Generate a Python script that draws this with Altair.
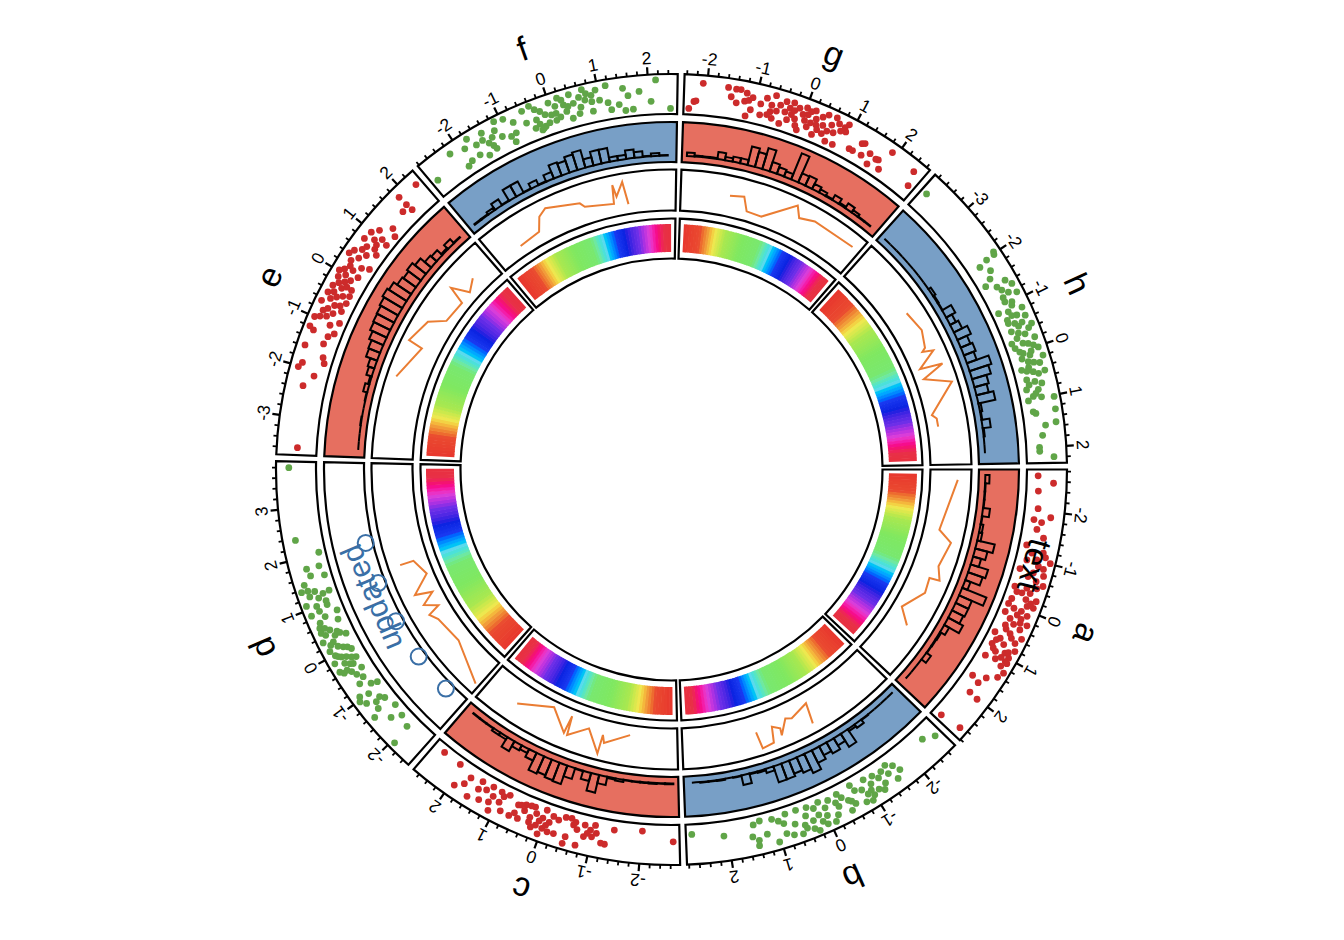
import math
import pandas as pd
import altair as alt

W, H = 1327, 923
CX, CY = 663.5, 461.5

SECTORS = ["a", "b", "c", "d", "e", "f", "g", "h"]
START = [0.0, 44.2, 88.75, 131.7, 182.2, 230.1, 271.9, 311.8]
END = [43.2, 87.75, 130.7, 181.2, 229.1, 270.9, 310.8, 359.0]
XMIN = [-2.84, -2.78, -2.78, -2.54, -3.75, -2.83, -2.45, -3.89]
XMAX = [2.82, 2.84, 2.74, 3.92, 2.39, 2.58, 2.68, 2.32]
TRACKS = [(355.5, 395.5), (307.5, 347.5), (259.0, 300.0), (211.0, 251.0)]

RED = "#cc2b2b"
GREEN = "#60a548"
FILL_RED = "#e66f60"
FILL_BLUE = "#789fc6"
ORANGE = "#ea7d33"
BLUE = "#3a6fa6"
PT_COLOR = [RED, GREEN, RED, GREEN, RED, GREEN, RED, GREEN]
HIST_FILL = [FILL_RED, FILL_BLUE, FILL_RED, "#ffffff", FILL_RED, FILL_BLUE, FILL_RED, FILL_BLUE]

PTS_A = [(-2.71,.28),(-2.57,.67),(-2.4,.3),(-2.04,.33),(-1.89,.67),(-1.81,.26),(-1.77,.46),(-1.62,.37),(-1.47,.57),(-1.27,.19),(-1.18,.64),(-1.13,.36),(-1.01,.87),(-1.02,.52),(-.97,.28),(-.76,.17),(-.87,.74),(-.75,.52),(-.74,.79),(-.38,.18),(-.42,.48),(-.47,.72),(-.29,.27),(-.12,.21),(-.34,.6),(-.23,.81),(0,.18),(-.08,.64),(-.09,.8),(.18,.18),(.15,.49),(.1,.73),(.27,.36),(.43,.32),(.28,.64),(.27,.82),(.65,.16),(.55,.52),(.55,.84),(.72,.35),(.89,.23),(.68,.74),(.96,.31),(.82,.83),(.94,.63),(1.17,.23),(1.13,.49),(.99,.77),(1.08,.74),(1.29,.85),(1.42,.78),(1.55,.55),(1.66,.23),(1.72,.45),(1.97,.42),(2.0,.67),(2.7,.23),(2.64,.79),
 (-1.1,.72),(-.9,.6),(-.6,.65),(-.55,.85),(-.3,.4),(-.2,.55),(-.15,.7),(.05,.35),(.05,.55),(.2,.62),(.35,.5),(.4,.7),(.5,.38),(.62,.6),(.8,.5),(.78,.28),(1.0,.4),(1.05,.6),(1.2,.7),(.9,.7),(1.1,.8),(-.65,.42)]
PTS_B = [(2.72,.25),(2.08,.37),(1.46,.23),(1.32,.17),(1.52,.52),(1.43,.77),(1.07,.21),(1.23,.54),(1.41,.64),(1.04,.81),(.78,.18),(.86,.4),(.86,.66),(.55,.18),(.73,.75),(.33,.21),(.47,.61),(.56,.8),(.07,.2),(.29,.58),(.32,.78),(-.13,.26),(-.02,.4),(.12,.69),(.24,.87),(-.34,.22),(-.28,.52),(-.11,.83),(-.66,.18),(-.5,.49),(-.48,.76),(-.96,.23),(-1.15,.27),(-.83,.43),(-1.24,.4),(-.99,.56),(-.92,.8),(-1.13,.64),(-1.22,.73),(-1.49,.23),(-1.61,.35),(-1.45,.45),(-1.68,.54),(-1.55,.69),(-2.41,.32),(-2.64,.48),
 (.95,.3),(.65,.5),(.4,.4),(.2,.3),(.15,.5),(0,.6),(-.2,.7),(-.4,.35),(-.6,.65),(-.7,.35),(-.8,.75),(-1.05,.42),(-1.3,.6),(-1.35,.3),(.45,.7),(.05,.8),(-.25,.4),(-.55,.55),(-.9,.6),(-1.0,.7)]
PTS_C = [(-2.65,.42),(-2.01,.18),(-1.43,.24),(-1.28,.63),(-1.2,.62),(-1.03,.21),(-1.08,.4),(-1.0,.51),(-.82,.26),(-.84,.55),(-.72,.81),(-.59,.33),(-.52,.18),(-.49,.67),(-.47,.85),(-.27,.32),(-.25,.68),(-.15,.27),(-.12,.69),(.02,.18),(0,.65),(.05,.82),(.27,.21),(.14,.63),(.29,.62),(.46,.25),(.52,.65),(.61,.33),(.7,.67),(.89,.66),(.99,.48),(.85,.2),(1.03,.22),(1.18,.6),(1.11,.79),(1.37,.67),(1.23,.21),(1.33,.36),(1.48,.23),(1.48,.45),(1.6,.75),(1.73,.31),(1.78,.52),(1.93,.69),(2.07,.18),(2.48,.18),
 (-.95,.35),(-.9,.45),(-.68,.42),(-.62,.25),(-.4,.2),(-.1,.45),(.05,.4),(.1,.5),(.2,.35),(.22,.72),(.3,.5),(.35,.22),(.45,.4),(.55,.3),(.62,.55),(.95,.3),(1.15,.42),(-.05,.55)]
PTS_D = [(3.8,.68),(2.37,.68),(2.04,.17),(1.77,.57),(1.77,.25),(1.62,.52),(1.56,.18),(1.48,.74),(1.36,.86),(1.3,.54),(1.23,.7),(1.21,.36),(1.23,.19),(1.01,.62),(1.08,.86),(.97,.36),(.79,.18),(.87,.83),(.76,.52),(.61,.25),(.59,.76),(.48,.55),(.49,.78),(.34,.49),(.28,.22),(.31,.84),(.24,.6),(-.05,.28),(.06,.44),(.1,.79),(-.06,.67),(-.14,.49),(-.24,.28),(-.15,.83),(-.24,.61),(-.33,.43),(-.48,.3),(-.34,.83),(-.45,.57),(-.4,.75),(-.66,.4),(-.74,.57),(-.86,.33),(-.91,.18),(-.95,.76),(-1,.53),(-1.03,.83),(-1.13,.72),(-1.26,.27),(-1.22,.5),(-1.18,.36),(-1.35,.57),(-1.44,.78),(-1.65,.47),(-1.51,.18),(-1.76,.23),(-2,.33),(-2.06,.84),
 (.55,.65),(.42,.7),(.4,.4),(.2,.7),(.12,.55),(.02,.35),(-.02,.72),(-.1,.6),(-.2,.38),(-.3,.5),(-.38,.65),(1.35,.7),(1.15,.5),(.68,.7),(.35,.35),(-.55,.5),(1.05,.35),(.9,.6)]
PTS_E = [(-3.6,.48),(-2.36,.56),(-2.12,.35),(-2.02,.79),(-1.92,.72),(-1.82,.19),(-1.71,.26),(-1.58,.79),(-1.44,.36),(-1.27,.32),(-1.17,.2),(-1.25,.72),(-1.2,.84),(-.93,.18),(-1.04,.38),(-1,.82),(-.8,.43),(-.69,.26),(-.82,.69),(-.64,.48),(-.5,.24),(-.66,.83),(-.47,.53),(-.34,.25),(-.46,.78),(-.27,.52),(-.21,.28),(-.3,.75),(-.13,.53),(-.1,.74),(.08,.3),(.09,.7),(.28,.35),(.3,.68),(.35,.17),(.5,.75),(.55,.43),(.67,.23),(.8,.72),(.84,.38),(.96,.18),(.98,.68),(1.11,.55),(1.31,.32),(1.21,.15),(1.7,.42),(1.86,.29),(1.85,.48),(1.85,.74),(2.26,.68),
 (-.75,.6),(-.55,.65),(-.6,.35),(-.4,.4),(-.4,.65),(-.2,.42),(-.2,.65),(-.05,.42),(0,.6),(.02,.8),(.15,.5),(.2,.62),(.42,.55),(.4,.82),(.6,.6),(.7,.55),(.75,.35),(.9,.5),(1.0,.35),(-.9,.55),(-.95,.7)]
PTS_F = [(2.44,.14),(2.15,.86),(2.04,.33),(1.66,.17),(1.5,.16),(1.81,.6),(1.58,.52),(1.49,.72),(1.38,.33),(1.21,.23),(1.16,.42),(1.16,.85),(.95,.79),(1,.52),(.83,.28),(.84,.52),(.69,.87),(.71,.6),(.47,.59),(.39,.23),(.3,.44),(.42,.83),(.18,.83),(.27,.62),(.08,.47),(-.01,.78),(-.02,.47),(-.14,.53),(-.29,.19),(-.41,.29),(-.39,.87),(-.31,.74),(-.34,.48),(-.55,.5),(-.55,.82),(-.9,.18),(-.94,.35),(-.79,.65),(-.82,.38),(-.95,.83),(-1.13,.88),(-1.11,.45),(-1.2,.67),(-1.32,.25),(-1.52,.19),(-1.41,.46),(-1.45,.77),(-1.65,.58),(-1.69,.32),(-1.89,.3),(-2.01,.23),(-1.76,.83),(-1.89,.65),(-2.19,.75),(-2.7,.41),
 (.6,.7),(.75,.75),(.6,.45),(.25,.75),(.35,.55),(.1,.65),(.05,.3),(-.1,.3),(-.2,.25),(-.22,.65),(.15,.35),(-1.3,.55),(-1.35,.35),(-1.5,.6),(.85,.68),(.55,.3),(-.3,.35),(-.25,.22)]
PTS_G = [(-2.08,.8),(-2.34,.15),(-2.24,.33),(-2.2,.35),(-1.58,.77),(-1.42,.76),(-1.33,.77),(-1.5,.55),(-1.38,.42),(-1.2,.71),(-1.22,.5),(-1.14,.54),(-1.07,.63),(-1.07,.32),(-1.15,.14),(-.86,.25),(-.89,.52),(-.79,.7),(-.67,.56),(-.63,.82),(-.67,.39),(-.61,.24),(-.43,.17),(-.4,.75),(-.38,.49),(-.25,.78),(-.24,.48),(-.3,.32),(-.04,.16),(-.02,.58),(.02,.77),(.13,.32),(.29,.19),(.2,.78),(.26,.59),(.37,.7),(.43,.51),(.46,.81),(.47,.31),(.6,.17),(.77,.18),(.59,.61),(.63,.83),(.8,.57),(.9,.81),(.9,.61),(1.12,.28),(1.2,.28),(1.35,.59),(1.3,.55),(1.4,.29),(1.54,.44),(1.6,.18),(1.75,.42),(1.7,.4),(1.86,.23),(1.9,.77),(2.46,.71),(2.55,.35),
 (-.55,.45),(-.5,.62),(-.3,.62),(-.12,.7),(-.15,.4),(-.1,.25),(.05,.45),(.08,.62),(.18,.45),(.3,.45),(.35,.35),(.55,.42),(.68,.45),(.72,.72),(.85,.7),(-.72,.3),(-.2,.6),(.12,.72)]
PTS_H = [(-3.76,.5),(-2.03,.83),(-1.98,.8),(-1.97,.57),(-1.92,.33),(-1.75,.51),(-1.61,.39),(-1.52,.2),(-1.44,.7),(-1.32,.81),(-1.4,.44),(-1.3,.51),(-1.2,.63),(-1.13,.82),(-1.06,.44),(-.94,.56),(-.82,.77),(-.9,.17),(-.85,.41),(-.72,.57),(-.65,.76),(-.63,.29),(-.58,.44),(-.46,.83),(-.45,.28),(-.37,.43),(-.31,.58),(-.19,.78),(-.21,.18),(-.11,.57),(-.1,.22),(.02,.78),(.05,.37),(.12,.52),(.2,.83),(.24,.43),(.28,.56),(.49,.77),(.37,.21),(.46,.48),(.59,.27),(.66,.46),(.79,.21),(.83,.5),(.95,.34),(.99,.54),(1.02,.2),(1.03,.85),(1.27,.83),(1.26,.27),(1.52,.8),(1.56,.53),(1.76,.43),(2.0,.33),(2.08,.33),(2.2,.68),
 (-1.15,.45),(-1.0,.6),(-.75,.45),(-.7,.3),(-.55,.62),(-.5,.5),(-.4,.72),(-.28,.35),(-.15,.45),(-.05,.68),(.05,.58),(.0,.3),(.15,.3),(.32,.7),(.35,.4),(.52,.6),(.7,.3),(.72,.62),(.9,.42),(1.3,.33),(.42,.33)]
POINTS = [PTS_A, PTS_B, PTS_C, PTS_D, PTS_E, PTS_F, PTS_G, PTS_H]

HIST_RANGE = [(-2.71, 2.63), (-2.65, 2.65), (-2.66, 2.53), None, (-3.57, 2.2), (-2.68, 2.37), (-2.33, 2.47), (-3.77, 2.06)]
HIST_A = [.15,.02,.02,.02,.25,.02,.1,.12,.64,.45,.3,.65,.55,.2,.93,.5,.5,.45,.6,.2,.05,.03,.02,.2,0,0,0]
HIST_B = [0,0,0,0,.02,.15,.08,.55,.3,.45,.35,.5,.75,.6,.5,.6,.6,.15,.05,.03,.35,.02,0,.03,.02,.02,0]
HIST_C = [.03,.02,.03,.02,.02,.02,.08,.05,.3,.65,.3,.02,.4,.7,.67,.6,.67,.3,.15,.2,.4,.1,.1,.02,.02,.02]
HIST_E = [0,0,0,.02,0,0,.02,.15,.05,.2,.25,.42,.45,.55,.65,.68,.7,.75,.82,.75,.6,.55,.62,.5,.3,.25,.05,.2,.02]
HIST_F = [.03,.03,.1,.25,.02,.45,.45,.02,.2,.02,.25,.5,.45,.58,.65,.3,.5,.5,.15,.15,.3,.2,.02,.1,.02]
HIST_G = [.12,.03,.03,.03,.25,.12,.18,.18,.68,.55,.78,.35,.25,.2,1.0,.35,.38,.2,.12,.03,.2,.05,.2,.1,.02,.02]
HIST_H = [0,0,0,0,0,0,0,0,.1,.04,.02,.37,.23,.33,.53,.37,.45,.37,.82,.7,.53,.45,.62,.08,.03,.29,.04,0,0]
HISTS = [HIST_A, HIST_B, HIST_C, None, HIST_E, HIST_F, HIST_G, HIST_H]

LINE_A = [(-2.57,.67),(-1.18,.38),(-.91,.73),(-.23,.61),(.11,.76),(.15,.51),(.56,.56),(1.19,.22),(1.55,.57)]
LINE_B = [(-.625,.77),(-.73,.26),(-.2,.42),(-.04,.36),(.22,.7),(.19,.53),(.38,.42),(.48,.8),(.79,.84),(.83,.42)]
LINE_C = [(-1.45,.24),(-.79,.55),(-.71,.37),(-.69,.84),(-.29,.31),(.21,.64),(.27,.17),(.31,.62),(.84,.15),(1.78,.52)]
LINE_D = [(-2.44,.76),(-1.29,.34),(-.5,.44),(-.28,.57),(-.18,.26),(.02,.57),(.23,.23),(.36,.65),(.76,.17),(1.22,.36),(1.23,.7)]
LINE_E = [(-1.59,.77),(-.65,.45),(-.6,.82),(.05,.63),(.34,.26),(1.0,.21),(1.13,.65),(1.37,.23),(1.71,.41)]
LINE_F = [(-2.05,.26),(-1.4,.32),(-1.2,.64),(-.96,.76),(-.06,.55),(.04,.43),(.84,.31),(.9,.77),(.95,.47),(1.17,.8),(1.24,.24)]
LINE_G = [(-1.11,.51),(-.73,.57),(-.56,.24),(-.12,.23),(.67,.82),(.85,.56),(1.26,.67),(2.46,.68)]
LINE_H = [(-1.97,.57),(-1.38,.67),(-.92,.54),(-.85,.44),(-.77,.7),(-.44,.22),(-.36,.78),(-.14,.22),(.16,.85),(.9,.17),(1.02,.27),(1.25,.27)]
LINES = [LINE_A, LINE_B, LINE_C, LINE_D, LINE_E, LINE_F, LINE_G, LINE_H]

CIRCLE_X = [-2, -1, 0, 1, 2]
CIRCLE_Y = [.175, .175, .175, .175, .175]

RAINBOW_N = 60
RB_DOMAIN = [0, .1, .15, .2, .27, .38, .5, .53, .58, .66, .72, .8, .87, .96, 1]
RB_RANGE = ["#e8382e", "#ea4a30", "#f0983a", "#f0e850", "#a8e850", "#80e860", "#78e870", "#70e8a8", "#60d8f0", "#1838f0", "#0a20e0", "#7030e8", "#e040d8", "#e83048", "#e83040"]


def ang(s, x):
    return START[s] + (x - XMIN[s]) / (XMAX[s] - XMIN[s]) * (END[s] - START[s])


def xy(alpha, r):
    a = math.radians(alpha)
    return CX + r * math.cos(a), CY + r * math.sin(a)


def rot(alpha):
    return (alpha + 90) % 360


tscale = alt.Scale(domain=[0, 720], range=[0, 4 * math.pi])
rscale = alt.Scale(domain=[0, 500], range=[0, 500])


def arc_enc():
    return dict(
        theta=alt.Theta("t0:Q", scale=tscale),
        theta2=alt.Theta2("t1:Q"),
        radius=alt.Radius("r0:Q", scale=rscale),
        radius2=alt.Radius2("r1:Q"),
    )


boxes = []
for s in range(8):
    for k, (ri, ro) in enumerate(TRACKS):
        boxes.append(dict(t0=START[s] + 90, t1=END[s] + 90, r0=ri, r1=ro,
                          fill=HIST_FILL[s] if k == 1 else "#ffffff"))
box_layer = alt.Chart(pd.DataFrame(boxes)).mark_arc(stroke="black", strokeWidth=2.2).encode(
    fill=alt.Fill("fill:N", scale=None), **arc_enc())

cells = []
for s in range(8):
    a0, a1 = START[s] + 1.0, END[s] - 1.0
    for i in range(RAINBOW_N):
        cells.append(dict(t0=a0 + (a1 - a0) * i / RAINBOW_N + 90,
                          t1=a0 + (a1 - a0) * (i + 1) / RAINBOW_N + 90 + 0.15 * (i < RAINBOW_N - 1),
                          r0=217.5, r1=245.5, i=i / (RAINBOW_N - 1)))
cell_layer = alt.Chart(pd.DataFrame(cells)).mark_arc().encode(
    color=alt.Color("i:Q", scale=alt.Scale(domain=RB_DOMAIN, range=RB_RANGE), legend=None),
    **arc_enc())

bars = []
for s in range(8):
    if HISTS[s] is None:
        continue
    lo, hi = HIST_RANGE[s]
    n = len(HISTS[s])
    ri, ro = TRACKS[1]
    for i, h in enumerate(HISTS[s]):
        x0 = lo + (hi - lo) * i / n
        x1 = lo + (hi - lo) * (i + 1) / n
        bars.append(dict(t0=ang(s, x0) + 90, t1=ang(s, x1) + 90,
                         r0=ri + (.16 + .7 * h * 1.0) * (ro - ri), r1=ri + .16 * (ro - ri)))
bar_layer = alt.Chart(pd.DataFrame(bars)).mark_arc(
    filled=False, stroke="black", strokeWidth=2).encode(**arc_enc())

line_rows = []
for s in range(8):
    ri, ro = TRACKS[2]
    for i, (x, y) in enumerate(LINES[s]):
        px, py = xy(ang(s, x), ri + y * (ro - ri))
        line_rows.append(dict(s=SECTORS[s], i=i, px=px, py=py))
line_layer = alt.Chart(pd.DataFrame(line_rows)).mark_line(color=ORANGE, strokeWidth=2).encode(
    x=alt.X("px:Q", scale=None, axis=None), y=alt.Y("py:Q", scale=None, axis=None),
    detail="s:N", order="i:Q")

pt_rows = []
for s in range(8):
    ri, ro = TRACKS[0]
    for x, y in POINTS[s]:
        px, py = xy(ang(s, x), ri + y * (ro - ri))
        pt_rows.append(dict(px=px, py=py, c=PT_COLOR[s]))
pt_layer = alt.Chart(pd.DataFrame(pt_rows)).mark_circle(size=46, opacity=1).encode(
    x=alt.X("px:Q", scale=None, axis=None), y=alt.Y("py:Q", scale=None, axis=None),
    fill=alt.Fill("c:N", scale=None))

tick_rows = []
label_rows = []
for s in range(8):
    ro = TRACKS[0][1]
    k = math.ceil(XMIN[s] * 5)
    while k / 5 <= XMAX[s]:
        v = k / 5
        a = ang(s, v)
        major = k % 5 == 0
        x0, y0 = xy(a, ro)
        x1, y1 = xy(a, ro + (7.5 if major else 4))
        tick_rows.append(dict(x0=x0, y0=y0, x1=x1, y1=y1, w=2.2 if major else 1.8))
        if major:
            lx, ly = xy(a, ro + 15.5)
            label_rows.append(dict(px=lx, py=ly, rot=rot(a), t=str(int(round(v)))))
        k += 1
tick_layer = alt.Chart(pd.DataFrame(tick_rows)).mark_rule(color="black").encode(
    x=alt.X("x0:Q", scale=None, axis=None), y=alt.Y("y0:Q", scale=None, axis=None),
    x2="x1:Q", y2="y1:Q", strokeWidth=alt.StrokeWidth("w:Q", scale=None))
FONT = "Liberation Sans"
label_layer = alt.Chart(pd.DataFrame(label_rows)).mark_text(
    font=FONT, fontSize=17.5, align="center", baseline="middle", color="black").encode(
    x=alt.X("px:Q", scale=None, axis=None), y=alt.Y("py:Q", scale=None, axis=None),
    angle=alt.Angle("rot:Q", scale=None), text="t:N")

name_rows = []
for s in range(8):
    a = (START[s] + END[s]) / 2
    px, py = xy(a, 444.5)
    name_rows.append(dict(px=px, py=py, rot=rot(a), t=SECTORS[s]))
name_layer = alt.Chart(pd.DataFrame(name_rows)).mark_text(
    font=FONT, fontSize=34, align="center", baseline="middle", color="black").encode(
    x=alt.X("px:Q", scale=None, axis=None), y=alt.Y("py:Q", scale=None, axis=None),
    angle=alt.Angle("rot:Q", scale=None), text="t:N")

circ_rows = []
ri, ro = TRACKS[1]
for x, y in zip(CIRCLE_X, CIRCLE_Y):
    px, py = xy(ang(3, x), ri + y * (ro - ri))
    circ_rows.append(dict(px=px, py=py))
circ_layer = alt.Chart(pd.DataFrame(circ_rows)).mark_point(
    size=256, filled=False, stroke=BLUE, strokeWidth=2, opacity=1).encode(
    x=alt.X("px:Q", scale=None, axis=None), y=alt.Y("py:Q", scale=None, axis=None))

txt_a = 156.9
px, py = xy(txt_a, 324.6)
updated = alt.Chart(pd.DataFrame([dict(px=px, py=py, rot=rot(txt_a), t="updated")])).mark_text(
    font=FONT, fontSize=31, align="center", baseline="middle", color=BLUE).encode(
    x=alt.X("px:Q", scale=None, axis=None), y=alt.Y("py:Q", scale=None, axis=None),
    angle=alt.Angle("rot:Q", scale=None), text="t:N")
txt_b = 14.8
px, py = xy(txt_b, 374)
text_lbl = alt.Chart(pd.DataFrame([dict(px=px, py=py, rot=rot(txt_b), t="text")])).mark_text(
    font=FONT, fontSize=33, align="center", baseline="middle", color="black").encode(
    x=alt.X("px:Q", scale=None, axis=None), y=alt.Y("py:Q", scale=None, axis=None),
    angle=alt.Angle("rot:Q", scale=None), text="t:N")

chart = alt.layer(
    box_layer, cell_layer, bar_layer, line_layer, pt_layer, tick_layer, label_layer,
    name_layer, circ_layer, updated, text_lbl,
).properties(
    width=W, height=H, padding=0,
    autosize=alt.AutoSizeParams(type="none"),
).configure_view(stroke=None)

chart.save("out.html", embed_options={"renderer": "svg", "actions": False})
